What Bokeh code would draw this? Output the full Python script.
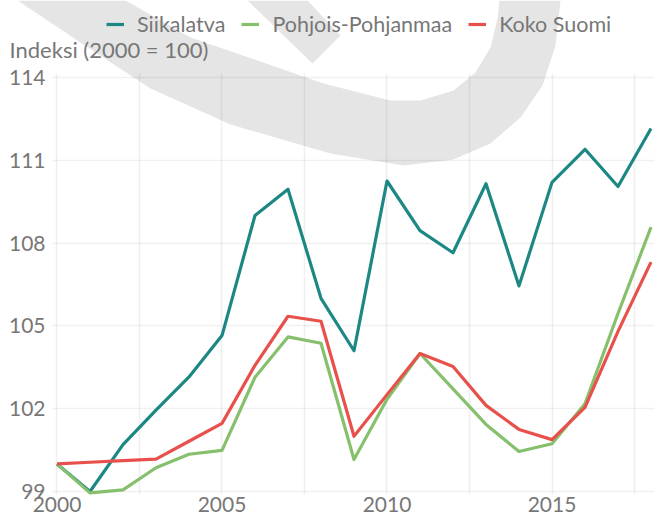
import numpy as np
from bokeh.plotting import figure
from bokeh.models import (Legend, LegendItem, Label, PolyAnnotation, FixedTicker,
                          Range1d, Grid)
from bokeh.embed import file_html
from bokeh.resources import INLINE

# ---------------- data ----------------
years = list(range(2000, 2019))
siikalatva = [100.0, 99.0, 100.7, 101.95, 103.15, 104.65, 109.0, 109.95, 106.0, 104.1,
              110.25, 108.45, 107.65, 110.15, 106.45, 110.2, 111.4, 110.05, 112.15]
pohjois_pohjanmaa = [100.0, 98.95, 99.06, 99.86, 100.35, 100.49, 103.14, 104.6, 104.37, 100.16,
                     102.34, 104.0, 102.72, 101.43, 100.45, 100.73, 102.18, 105.45, 108.58]
koko_suomi = [100.0, 100.06, 100.12, 100.17, 100.82, 101.47, 103.57, 105.35, 105.17, 101.0,
              102.51, 104.0, 103.53, 102.12, 101.25, 100.88, 102.05, 104.8, 107.31]

series_names = ["Siikalatva", "Pohjois-Pohjanmaa", "Koko Suomi"]
series_values = [siikalatva, pohjois_pohjanmaa, koko_suomi]
series_colors = ["#1d8883", "#87c06d", "#e8514b"]

x_ticks = [2000, 2005, 2010, 2015]
x_grid = [2000, 2002.5, 2005, 2007.5, 2010, 2012.5, 2015, 2017.5]
y_ticks = [99, 102, 105, 108, 111, 114]
y_title = "Indeksi (2000 = 100)"

# panel extents (data units)
x_lo, x_hi = 1999.864, 2018.106      # plotting panel
y_lo, y_hi = 98.9, 114.15

FONT = "Lato"
TXT = "#777777"

W, H = 654, 518

p = figure(width=W, height=H, output_backend="svg", toolbar_location=None,
           x_range=Range1d(1998.288, 2018.106), y_range=Range1d(98.022, 116.79),
           min_border_left=0, min_border_right=0, min_border_top=0,
           min_border_bottom=0)
p.outline_line_color = None
p.background_fill_color = "white"
p.border_fill_color = "white"

# background watermark (decorative) in canvas pixels
outer = [(17, 0), (80, 42), (150, 88), (230, 124), (330, 153), (403, 165), (453, 159),
         (490, 143), (520, 117), (542, 85), (555, 45), (560, 0)]
inner = [(499, 0), (497, 18), (490, 47), (475, 72), (453, 90), (420, 100), (390, 100),
         (323, 83), (257, 60), (190, 37), (125, 0)]
band = outer + inner
slash = [(247, 0), (307, 0), (340, 35), (312, 63)]


def mk_poly(pts):
    xs = [a for a, b in pts]
    ys = [b for a, b in pts]
    return PolyAnnotation(xs=xs, ys=ys, xs_units="canvas", ys_units="canvas",
                          fill_color="#e5e5e5", fill_alpha=1.0, line_color=None,
                          level="image")


p.add_layout(mk_poly(band))
p.add_layout(mk_poly(slash))

# grids
GRID_ALPHA = 0.06
if "cross_bounds" in Grid.properties():
    p.xgrid.ticker = FixedTicker(ticks=x_grid)
    p.ygrid.ticker = FixedTicker(ticks=y_ticks)
    p.xgrid.cross_bounds = (y_lo, y_hi)
    p.ygrid.cross_bounds = (x_lo, x_hi)
    for g in (p.xgrid, p.ygrid):
        g.grid_line_color = "black"
        g.grid_line_alpha = GRID_ALPHA
        g.grid_line_width = 1.6
else:
    p.xgrid.visible = False
    p.ygrid.visible = False
    p.segment(x0=x_grid, x1=x_grid, y0=[y_lo] * len(x_grid), y1=[y_hi] * len(x_grid),
              line_color="black", line_alpha=GRID_ALPHA, line_width=1.6, level="underlay")
    p.segment(x0=[x_lo] * len(y_ticks), x1=[x_hi] * len(y_ticks), y0=y_ticks, y1=y_ticks,
              line_color="black", line_alpha=GRID_ALPHA, line_width=1.6, level="underlay")

# axes (drawn inside the canvas at fixed locations)
p.xaxis.ticker = FixedTicker(ticks=x_ticks)
p.yaxis.ticker = FixedTicker(ticks=y_ticks)
p.xaxis.fixed_location = y_lo
p.yaxis.fixed_location = x_lo
for ax in (p.xaxis[0], p.yaxis[0]):
    ax.axis_line_color = None
    ax.major_tick_line_color = None
    ax.minor_tick_line_color = None
    ax.major_tick_out = 0
    ax.major_tick_in = 0
    ax.major_label_text_font = FONT
    ax.major_label_text_font_size = "21px"
    ax.major_label_text_color = TXT
p.xaxis.major_label_standoff = 3
p.yaxis.major_label_standoff = 7

# lines
items = []
for name, vals, col in zip(series_names, series_values, series_colors):
    r = p.line(years, vals, line_color=col, line_width=3.2, line_join="round")
    items.append(LegendItem(label=name, renderers=[r]))

legend = Legend(items=items, orientation="horizontal", location=(106, 481),
                label_text_font=FONT, label_text_font_size="21.5px", label_text_color=TXT,
                glyph_width=18, glyph_height=20, label_standoff=13, spacing=16,
                padding=0, margin=0, border_line_color=None, background_fill_alpha=0)
p.add_layout(legend, "center")

# y-axis title (horizontal, top-left)
lab = Label(x=9, y=49, x_units="canvas", y_units="canvas", text=y_title,
            text_font=FONT, text_font_size="22px", text_color=TXT,
            text_baseline="middle", text_align="left")
p.add_layout(lab)

open("out.html", "w").write(file_html(p, INLINE))
